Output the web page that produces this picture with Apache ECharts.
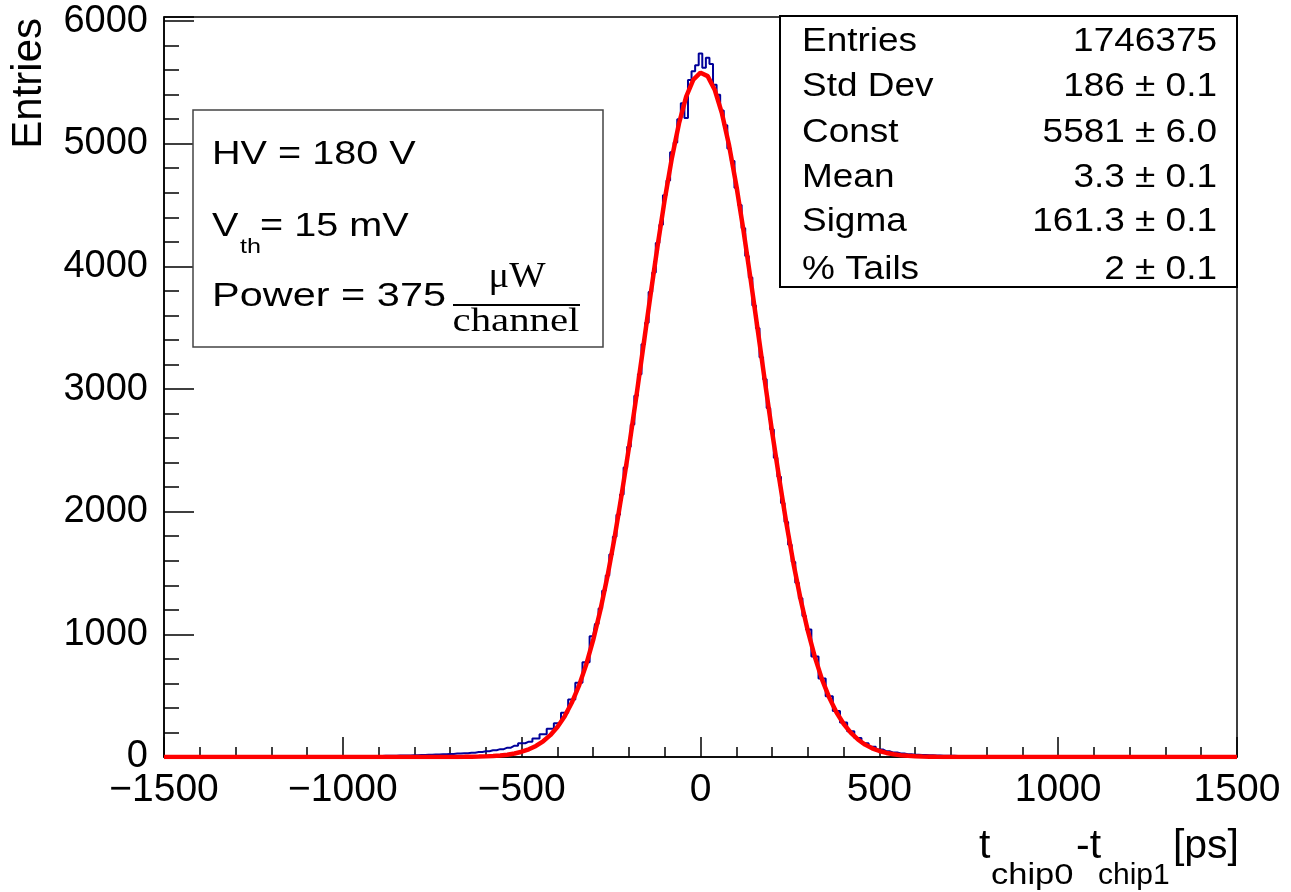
<!DOCTYPE html>
<html>
<head>
<meta charset="utf-8">
<script src="https://cdn.jsdelivr.net/npm/echarts@6.0.0/dist/echarts.min.js"></script>
<style>
html, body { margin: 0; padding: 0; background: #fff; }
#chart { width: 1291px; height: 892px; }
</style>
</head>
<body>
<div id="chart"></div>
<script>
// histogram counts
// left tail: bins of 20 ps starting at -1500
var leftTail = [
    0, 1, 0, 0, 1, 0, 1, 1, 0, 1, 1, 2, 1, 1, 2, 2, 1, 2, 3, 2, 3,
    3, 4, 3, 5, 5, 6, 6, 8, 8, 9,
    10, 11, 13, 13, 15, 17, 18, 21, 22, 25,
    28, 31, 35, 40, 47, 55, 64, 76, 92, 112,
    125, 150, 186, 230, 275, 360, 468, 605, 772
];
// core: bins of 10 ps starting at -300
var coreCounts = [
    985, 1085, 1210, 1355, 1480, 1650, 1795, 1975, 2140, 2360,
    2530, 2710, 2945, 3120, 3365, 3540, 3790, 3950, 4190, 4340,
    4580, 4700, 4930, 5010, 5200, 5330, 5210, 5520, 5590, 5640,
    5735, 5620, 5700, 5650, 5480, 5400, 5270, 5150, 4960, 4860,
    4640, 4500, 4310, 4085, 3910, 3680, 3495, 3260, 3080, 2845,
    2670, 2440, 2285, 2070, 1915, 1730, 1590, 1420, 1295, 1150,
    1040
];
// right tail: bins of 20 ps starting at 320
var rightTail = [
    820, 640, 495, 375, 282, 210, 155, 113, 83, 62,
    46, 36, 28, 23, 19, 16, 14, 12, 11, 10,
    9, 8, 8, 7, 6,
    6, 5, 5, 4, 4, 4, 3, 3, 3, 2,
    2, 2, 1, 2, 1, 1, 1, 0, 1, 1, 0, 1, 0, 0, 1, 0, 0, 0, 1, 0, 0, 0, 0, 0, 0
];
// fit curve, every 20 ps from -800 to 800
var fitY = [
    0, 0, 0, 0.2, 0.3, 0.4, 0.7, 1.2, 2, 3.2,
    5.1, 8, 12.6, 19, 29, 43, 63, 90, 128, 178,
    245, 331, 442, 579, 749, 954, 1197, 1475, 1793, 2148,
    2524, 2927, 3344, 3761, 4167, 4545, 4884, 5167, 5384, 5523,
    5579,
    5551, 5438, 5247, 4985, 4662, 4296, 3897, 3482, 3063, 2655,
    2272, 1906, 1576, 1284, 1030, 812, 631, 484, 365, 271,
    198, 143, 101, 71, 49, 33, 22, 14.5, 9.3, 5.9,
    3.6, 2.3, 1.3, 0.8, 0.5, 0.3, 0.2, 0.1, 0, 0
];

var statNames = ['Entries', 'Std Dev', 'Const', 'Mean', 'Sigma', '% Tails'];
var statValues = ['1746375', '186 \u00b1 0.1', '5581 \u00b1 6.0', '3.3 \u00b1 0.1', '161.3 \u00b1 0.1', '2 \u00b1 0.1'];

var histData = [];
leftTail.forEach(function (v, i) { histData.push([-1500 + i * 20, v]); });
coreCounts.forEach(function (v, i) { histData.push([-300 + i * 10, v]); });
rightTail.forEach(function (v, i) { histData.push([320 + i * 20, v]); });

var fitData = [[-1500, 0]];
fitY.forEach(function (v, i) { fitData.push([-800 + i * 20, v]); });
fitData.push([1500, 0]);

function txt(x, y, text, size, align, family, sx, extra) {
    var el = {
        type: 'text', x: x, y: y, scaleX: sx || 1, z: 101, silent: true,
        style: {
            text: text, fontSize: size, fontFamily: family || 'Liberation Sans', fill: '#000',
            textAlign: align || 'left', textVerticalAlign: 'middle',
            align: align || 'left', verticalAlign: 'middle'
        }
    };
    if (extra) { for (var k in extra) el[k] = extra[k]; }
    return el;
}

var graphics = [];
// stats box
graphics.push({type: 'rect', z: 100, silent: true, shape: {x: 780, y: 16, width: 457, height: 271},
    style: {fill: '#fff', stroke: '#000', lineWidth: 2}});
var rowY = [42, 87, 133, 178, 222, 270];
statNames.forEach(function (n, i) {
    graphics.push(txt(802, rowY[i], n, 33, 'left', null, 1.12));
    graphics.push(txt(1217, rowY[i], statValues[i], 33, 'right', null, 1.12));
});
// text box
graphics.push({type: 'rect', z: 100, silent: true, shape: {x: 193, y: 110, width: 410, height: 237},
    style: {fill: '#fff', stroke: '#444', lineWidth: 1.5}});
graphics.push(txt(212, 155, 'HV = 180 V', 33, 'left', null, 1.2));
graphics.push(txt(212, 227, 'V', 33, 'left', null, 1.2));
graphics.push(txt(240, 247, 'th', 21, 'left', null, 1.2));
graphics.push(txt(260, 227, '= 15 mV', 33, 'left', null, 1.2));
graphics.push(txt(212, 297, 'Power = 375', 34, 'left', null, 1.22));
graphics.push(txt(517, 278, '\u03bcW', 35, 'center', 'Liberation Serif', 1.1));
graphics.push({type: 'line', z: 101, silent: true, shape: {x1: 453, y1: 305, x2: 580, y2: 305},
    style: {stroke: '#000', lineWidth: 2}});
graphics.push(txt(516, 322, 'channel', 34, 'center', 'Liberation Serif', 1.2));
// axis titles
graphics.push(txt(29, 18, 'Entries', 42, 'right', null, 1, {rotation: Math.PI / 2}));
graphics.push(txt(979, 847, 't', 41, 'left'));
graphics.push(txt(991, 876, 'chip0', 30, 'left', null, 1.15));
graphics.push(txt(1076, 847, '-t', 41, 'left'));
graphics.push(txt(1098, 876, 'chip1', 30, 'left', null, 1.0));
graphics.push(txt(1239, 847, '[ps]', 41, 'right'));

var chart = echarts.init(document.getElementById('chart'), null, {renderer: 'canvas'});
chart.setOption({
    animation: false,
    backgroundColor: '#fff',
    grid: {left: 164, right: 54, top: 17, bottom: 135, show: true, borderColor: '#000', borderWidth: 1.5},
    xAxis: {
        type: 'value', min: -1500, max: 1500, interval: 500,
        axisLine: {onZero: false, lineStyle: {color: '#000', width: 1.5}},
        axisTick: {inside: true, length: 20, lineStyle: {color: '#000', width: 1.5}},
        minorTick: {show: true, splitNumber: 5, length: 10, lineStyle: {color: '#000', width: 1.5}},
        splitLine: {show: false},
        axisLabel: {fontSize: 39, fontFamily: 'Liberation Sans', color: '#000', margin: 14,
            formatter: function (v) { return String(v).replace('-', '\u2212'); }}
    },
    yAxis: {
        type: 'value', min: 0, max: 6033, interval: 1000,
        axisLine: {onZero: false, lineStyle: {color: '#000', width: 1.5}},
        axisTick: {inside: true, length: 30, lineStyle: {color: '#000', width: 1.5}},
        minorTick: {show: true, splitNumber: 5, length: 15, lineStyle: {color: '#000', width: 1.5}},
        splitLine: {show: false},
        axisLabel: {fontSize: 38, fontFamily: 'Liberation Sans', color: '#000', margin: 16,
            formatter: function (v) { return v % 1000 === 0 ? String(v) : ''; }}
    },
    series: [
        {type: 'line', data: histData, step: 'middle', showSymbol: false, silent: true, z: 2,
            lineStyle: {color: '#000099', width: 2}, itemStyle: {color: '#000099'}},
        {type: 'line', data: fitData, showSymbol: false, silent: true, z: 3,
            lineStyle: {color: '#ff0000', width: 4.5}, itemStyle: {color: '#ff0000'}}
    ],
    graphic: graphics
});
</script>
</body>
</html>
